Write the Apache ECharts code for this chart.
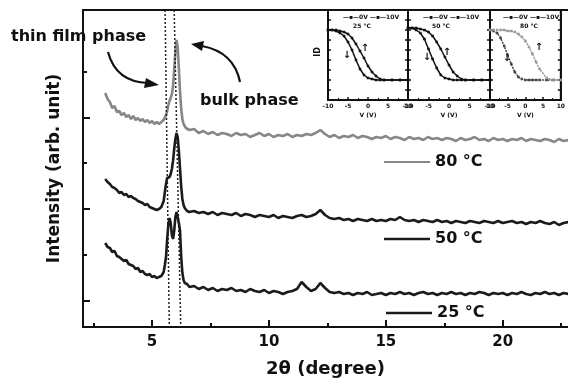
<!DOCTYPE html>
<html>
<head>
<meta charset="utf-8">
<script src="https://cdn.jsdelivr.net/npm/echarts@6/dist/echarts.min.js"></script>
<style>
  html, body { margin: 0; padding: 0; background: #fff; }
  #main { width: 568px; height: 384px; }
</style>
</head>
<body>
<div id="main"></div>
<script>
// 2theta (degree) sample positions
var twoTheta = [
  3.0,3.1,3.2,3.3,3.4,3.5,3.6,3.7,3.8,3.9,4.0,4.1,4.2,4.3,4.4,4.5,4.6,4.7,4.8,4.9,5.0,5.1,5.2,5.3,5.4,5.5,
  5.55,5.6,5.65,5.7,5.75,5.8,5.85,5.9,5.95,6.0,6.05,6.1,6.15,6.2,6.25,6.3,6.35,6.4,6.45,6.5,
  6.6,6.8,7.0,7.2,7.4,7.6,7.8,8.0,8.2,8.4,
  8.6,8.8,9.0,9.2,9.4,9.6,9.8,10.0,10.2,10.4,
  10.6,10.8,11.0,11.2,11.4,11.6,11.8,12.0,12.2,12.4,
  12.6,12.8,13.0,13.2,13.4,13.6,13.8,14.0,14.2,14.4,
  14.6,14.8,15.0,15.2,15.4,15.6,15.8,16.0,16.2,16.4,
  16.6,16.8,17.0,17.2,17.4,17.6,17.8,18.0,18.2,18.4,
  18.6,18.8,19.0,19.2,19.4,19.6,19.8,20.0,20.2,20.4,
  20.6,20.8,21.0,21.2,21.4,21.6,21.8,22.0,22.2,22.4,
  22.6,22.8
];
// intensities (arb. unit), curves are stacked with offsets as in the figure
var int25 = [
  84,80,79,75,76,71,70,68,66,67,63,62,61,58,59,55,56,53,52,53,50,51,49,50,51,55,
  62,70,88,103,109,104,92,88,96,110,115,113,104,96,70,54,47,44,42,43,
  40,41,38,40,37,39,36,38,37,39,
  36,37,35,38,36,35,37,34,36,35,
  33,35,36,38,45,40,36,38,44,39,
  35,34,35,33,34,32,34,33,35,32,
  33,34,32,34,33,35,33,34,32,34,
  35,33,34,32,34,33,35,33,34,32,
  34,33,35,34,32,34,33,34,32,34,
  33,35,33,32,34,33,35,33,34,32,
  34,33
];
var int50 = [
  148,145,143,140,139,137,134,135,132,133,130,131,129,128,126,125,124,122,123,120,119,118,117,118,120,126,
  135,143,149,151,150,153,158,166,178,188,194,190,176,158,140,128,122,119,117,116,
  115,116,114,115,113,115,112,114,113,112,
  114,111,113,112,110,112,111,110,112,109,
  111,110,109,111,112,110,111,113,117,112,
  109,108,109,107,108,106,108,107,106,108,
  106,107,106,108,107,110,107,106,107,105,
  107,106,105,107,105,106,104,106,105,104,
  106,105,104,106,105,104,106,104,105,106,
  104,105,103,105,104,106,104,103,105,102,
  104,105
];
var int80 = [
  234,228,225,219,221,215,216,212,214,210,212,208,211,207,209,206,208,205,207,204,206,203,205,203,205,207,
  208,212,216,222,226,229,233,240,258,275,287,280,258,235,218,208,203,202,199,200,
  197,198,194,196,193,195,192,194,193,191,
  194,192,193,190,192,194,191,193,190,192,
  191,193,190,192,191,193,192,194,197,193,
  190,192,189,191,190,192,189,191,190,188,
  190,189,191,188,190,189,187,190,188,189,
  187,190,188,189,187,189,188,186,189,187,
  188,190,187,188,186,189,187,188,186,188,
  187,189,186,188,187,186,188,187,185,188,
  186,187
];
// dotted guide lines (x at top, x at bottom of the frame)
var guideThinX = [5.56, 5.74];
var guideBulkX = [5.95, 6.23];
var guideY = [317, 0];

var xMajorTicks = [5, 10, 15, 20];
var xMinorTicks = [2.5, 7.5, 12.5, 17.5, 22.5];
var yMajorTicks = [26, 118, 209];
var yMinorTicks = [72, 164, 255];

// inset transfer curves, gate voltage (V) vs normalised current
var gateV = [-10,-9,-8,-7,-6,-5,-4,-3,-2,-1,0,1,2,3,4,6,8,10];
var p25Fwd = [70,70,69,67,64,58,50,40,31,25,22,21,20,20,20,20,20,20];
var p25Rev = [70,70,70,69,68,66,62,56,49,42,34,28,24,21,20,20,20,20];
var p50Fwd = [72,72,70,67,61,51,41,32,25,22,21,20,20,20,20,20,20,20];
var p50Rev = [72,72,72,71,70,68,64,58,51,43,35,28,24,21,20,20,20,20];
var p80Fwd = [70,69,67,62,54,45,36,28,23,21,20,20,20,20,20,20,20,20];
var p80Rev = [70,70,70,70,70,69,69,68,66,63,59,53,46,38,31,22,20,20];
var insetTemps = ['25 °C', '50 °C', '80 °C'];

var FONT = 'DejaVu Sans';
var INK = '#111';

function pairs(xs, ys) {
  return xs.map(function (x, i) { return [x, ys[i]]; });
}

var chart = echarts.init(document.getElementById('main'));

var xAxes = [
  {
    gridIndex: 0, type: 'value', min: 2.05, max: 22.79, position: 'bottom',
    axisLine: { show: true, onZero: false, lineStyle: { color: INK, width: 2 } },
    axisTick: { show: true, inside: true, length: 7, customValues: xMajorTicks, lineStyle: { color: INK, width: 2 } },
    axisLabel: { customValues: xMajorTicks, color: INK, fontFamily: FONT, fontWeight: 'bold', fontSize: 15, margin: 8 },
    splitLine: { show: false },
    name: '2θ (degree)', nameLocation: 'middle', nameGap: 33,
    nameTextStyle: { color: INK, fontFamily: FONT, fontWeight: 'bold', fontSize: 18 }
  },
  {
    gridIndex: 0, type: 'value', min: 2.05, max: 22.79, position: 'bottom',
    axisLine: { show: false, onZero: false },
    axisTick: { show: true, inside: true, length: 4, customValues: xMinorTicks, lineStyle: { color: INK, width: 2 } },
    axisLabel: { show: false },
    splitLine: { show: false }
  },
  {
    gridIndex: 0, type: 'value', min: 2.05, max: 22.79, position: 'top',
    axisLine: { show: true, onZero: false, lineStyle: { color: INK, width: 2 } },
    axisTick: { show: false }, axisLabel: { show: false }, splitLine: { show: false }
  }
];
var yAxes = [
  {
    gridIndex: 0, type: 'value', min: 0, max: 317, position: 'left',
    axisLine: { show: true, onZero: false, lineStyle: { color: INK, width: 2 } },
    axisTick: { show: true, inside: true, length: 7, customValues: yMajorTicks, lineStyle: { color: INK, width: 2 } },
    axisLabel: { show: false },
    splitLine: { show: false },
    name: 'Intensity (arb. unit)', nameLocation: 'middle', nameGap: 20,
    nameTextStyle: { color: INK, fontFamily: FONT, fontWeight: 'bold', fontSize: 17 }
  },
  {
    gridIndex: 0, type: 'value', min: 0, max: 317, position: 'left',
    axisLine: { show: false, onZero: false },
    axisTick: { show: true, inside: true, length: 4, customValues: yMinorTicks, lineStyle: { color: INK, width: 2 } },
    axisLabel: { show: false },
    splitLine: { show: false }
  }
];

var insetBoxes = [[328, 80], [408, 82], [490, 78]];
var grids = [{ left: 83, top: 10, width: 485, height: 317 }];
insetBoxes.forEach(function (b, i) {
  var g = i + 1;
  grids.push({ left: b[0], top: 10, width: b[1], height: 90, show: true,
    backgroundColor: '#fff', borderColor: INK, borderWidth: 2 });
  xAxes.push({
    gridIndex: g, type: 'value', min: -10, max: 10, interval: 5, position: 'bottom',
    axisLine: { show: true, onZero: false, lineStyle: { color: INK, width: 2 } },
    axisTick: { show: true, inside: true, length: 3, lineStyle: { color: INK, width: 1.5 } },
    minorTick: { show: true, splitNumber: 2, length: 2, lineStyle: { color: INK, width: 1 } },
    axisLabel: { color: INK, fontFamily: FONT, fontWeight: 'bold', fontSize: 6, margin: 3 },
    splitLine: { show: false },
    name: 'V (V)', nameLocation: 'middle', nameGap: 12,
    nameTextStyle: { color: INK, fontFamily: FONT, fontWeight: 'bold', fontSize: 6 }
  });
  ['left', 'right'].forEach(function (pos) {
    yAxes.push({
      gridIndex: g, type: 'value', min: 0, max: 90, interval: 10, position: pos,
      axisLine: { show: true, onZero: false, lineStyle: { color: INK, width: 2 } },
      axisTick: { show: true, inside: true, length: 3, lineStyle: { color: INK, width: 1.5 } },
      axisLabel: { show: false }, splitLine: { show: false }
    });
  });
});

function mainLine(name, ys, color) {
  return {
    name: name, type: 'line', xAxisIndex: 0, yAxisIndex: 0,
    data: pairs(twoTheta, ys), symbol: 'none', silent: true,
    lineStyle: { color: color, width: 2.6 }, itemStyle: { color: color }
  };
}
function guide(xs) {
  return {
    type: 'line', xAxisIndex: 0, yAxisIndex: 0, data: pairs(xs, guideY),
    symbol: 'none', silent: true, z: 3,
    lineStyle: { color: '#222', width: 1.5, type: [2, 2] }
  };
}
function insetLine(g, ys, color, dotted) {
  return {
    type: 'line', xAxisIndex: g + 2, yAxisIndex: 2 + (g - 1) * 2,
    data: pairs(gateV, ys), symbol: 'rect', symbolSize: 2.5, silent: true,
    lineStyle: { color: color, width: 1.5, type: dotted ? [2, 1] : 'solid' },
    itemStyle: { color: color }
  };
}

// one legend per temperature, placed beside its curve; plain bar icon
function legendAt(name, left, centerY, thick) {
  return {
    data: [name], left: left, top: centerY - 7,
    orient: 'horizontal', padding: 0, icon: 'rect',
    itemWidth: 46, itemHeight: thick, selectedMode: false,
    textStyle: { color: INK, fontFamily: FONT, fontWeight: 'bold', fontSize: 16 }
  };
}

var smallFont = 'bold 6px "DejaVu Sans"';
var graphics = [
  { type: 'text', z: 100, style: { text: 'thin film phase', x: 11, y: 37, verticalAlign: 'middle',
    font: 'bold 16px "DejaVu Sans"', fill: INK } },
  { type: 'text', z: 100, style: { text: 'bulk phase', x: 200, y: 101, verticalAlign: 'middle',
    font: 'bold 16px "DejaVu Sans"', fill: INK } },
  { type: 'bezierCurve', z: 100, shape: { x1: 108, y1: 52, cpx1: 116, cpy1: 82, x2: 148, y2: 83 },
    style: { stroke: INK, lineWidth: 2.2, fill: null } },
  { type: 'polygon', z: 100, shape: { points: [[159, 85], [146, 78], [144, 88]] }, style: { fill: INK } },
  { type: 'bezierCurve', z: 100, shape: { x1: 240, y1: 82, cpx1: 234, cpy1: 52, x2: 202, y2: 46 },
    style: { stroke: INK, lineWidth: 2.2, fill: null } },
  { type: 'polygon', z: 100, shape: { points: [[191, 44], [204, 41], [202, 51]] }, style: { fill: INK } },
  { type: 'text', z: 100, rotation: Math.PI / 2, x: 318, y: 52,
    style: { text: 'ID', align: 'center', verticalAlign: 'middle', font: 'bold 8px "DejaVu Sans"', fill: INK } }
];
var insetTextPos = [
  { leg: 343, temp: 362, down: 347, downY: 55, up: 365, upY: 48 },
  { leg: 423, temp: 441, down: 427, downY: 57, up: 447, upY: 52 },
  { leg: 503, temp: 529, down: 507, downY: 58, up: 539, upY: 47 }
];
insetTextPos.forEach(function (p, i) {
  graphics.push(
    { type: 'text', z: 100, style: { text: '—▪—0V —▪—10V', x: p.leg, y: 17, verticalAlign: 'middle', font: smallFont, fill: INK } },
    { type: 'text', z: 100, style: { text: insetTemps[i], x: p.temp, y: 26, align: 'center', verticalAlign: 'middle', font: smallFont, fill: INK } },
    { type: 'text', z: 100, style: { text: '↓', x: p.down, y: p.downY, align: 'center', verticalAlign: 'middle', font: 'bold 10px "DejaVu Sans"', fill: INK } },
    { type: 'text', z: 100, style: { text: '↑', x: p.up, y: p.upY, align: 'center', verticalAlign: 'middle', font: 'bold 10px "DejaVu Sans"', fill: INK } }
  );
});

var option = {
  animation: false,
  backgroundColor: '#fff',
  grid: grids,
  xAxis: xAxes,
  yAxis: yAxes,
  legend: [
    legendAt('80 °C', 384, 161, 2),
    legendAt('50 °C', 384, 238, 2.5),
    legendAt('25 °C', 386, 312, 2.5)
  ],
  series: [
    mainLine('80 °C', int80, '#878787'),
    mainLine('50 °C', int50, '#1b1b1b'),
    mainLine('25 °C', int25, '#1b1b1b'),
    guide(guideThinX),
    guide(guideBulkX),
    insetLine(1, p25Fwd, '#111', false),
    insetLine(1, p25Rev, '#111', false),
    insetLine(2, p50Fwd, '#111', false),
    insetLine(2, p50Rev, '#111', false),
    insetLine(3, p80Fwd, '#444', true),
    insetLine(3, p80Rev, '#999', true)
  ],
  graphic: graphics
};

chart.setOption(option);
</script>
</body>
</html>
